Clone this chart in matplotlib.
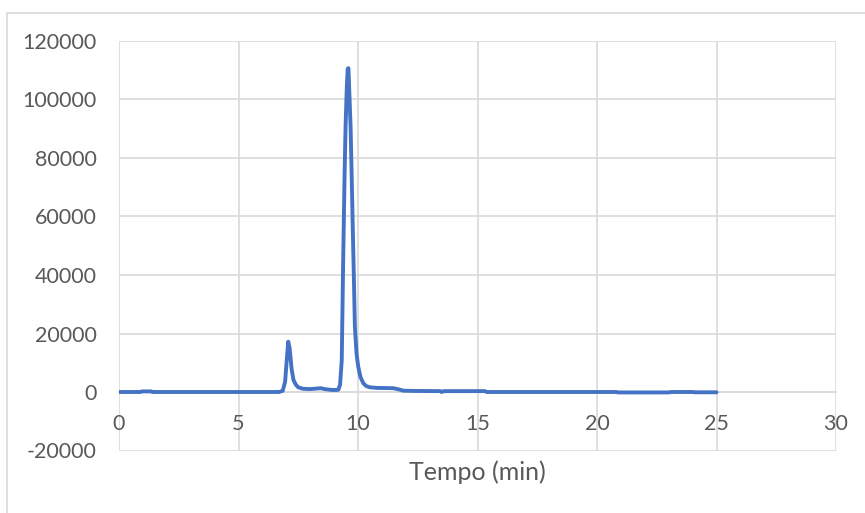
import matplotlib.pyplot as plt
import matplotlib.patches as patches

plt.rcParams['axes.unicode_minus'] = False

# chromatogram readings (time in min, signal)
tempo = [0.0, 0.9, 0.95, 1.35, 1.4, 3.0, 5.0, 6.7, 6.85, 6.95, 7.02, 7.08, 7.14, 7.22, 7.3,
         7.4, 7.5, 7.7, 8.0, 8.3, 8.45, 8.6, 8.9, 9.1, 9.18, 9.25, 9.32, 9.38, 9.44,
         9.48, 9.53, 9.57, 9.6, 9.63, 9.69, 9.74, 9.78, 9.83, 9.87, 9.94, 10.01,
         10.1, 10.22, 10.35, 10.5, 10.8, 11.2, 11.48, 11.7, 11.9, 12.5, 13.45, 13.5,
         13.6, 15.3, 15.4, 18.0, 20.8, 20.9, 23.0, 23.1, 24.0, 24.1, 25.0]
sinal = [0, 0, 200, 200, 0, 0, 0, 0, 400, 3500, 11000, 17200, 15000, 8000, 4100,
         2500, 1600, 1100, 1000, 1200, 1300, 1000, 700, 700, 800, 2500, 10900, 45100, 75000,
         90700, 104000, 110500, 110700, 104000, 90700, 72000, 56500, 38000, 22300, 13000, 8650,
         5200, 3000, 2000, 1600, 1400, 1350, 1300, 900, 450, 350, 300, 0,
         300, 300, 0, 0, 0, -150, -150, 0, 0, -100, -100]

x_ticks = [0, 5, 10, 15, 20, 25, 30]
y_ticks = [-20000, 0, 20000, 40000, 60000, 80000, 100000, 120000]

grid_col = '#d9d9d9'
text_col = '#595959'
font = 'Lato'

fig = plt.figure(figsize=(8.65, 5.13), dpi=100)
ax = fig.add_axes([119 / 865, 1 - 450.5 / 513, (836 - 119) / 865, (450.5 - 41) / 513])

# outer chart border, cut off on the right and bottom like the source
fig.patches.append(patches.Rectangle((7 / 865, -0.1), 1.1, 1 - 13 / 513 + 0.1,
                                     transform=fig.transFigure, fill=False,
                                     edgecolor=grid_col, linewidth=1.2))

ax.plot(tempo, sinal, color='#4472c4', linewidth=2.8, solid_joinstyle='round',
        solid_capstyle='round', zorder=3)

ax.set_xlim(0, 30)
ax.set_ylim(-20000, 120000)
ax.set_xticks(x_ticks)
ax.set_yticks(y_ticks)
ax.grid(True, color=grid_col, linewidth=1.2)
ax.set_axisbelow(True)

for side in ['top', 'right', 'left']:
    ax.spines[side].set_visible(False)
ax.spines['bottom'].set_position(('data', 0))
ax.spines['bottom'].set_color(grid_col)
ax.spines['bottom'].set_linewidth(1.2)

ax.tick_params(axis='both', length=0, labelsize=15.5, labelcolor=text_col)
ax.tick_params(axis='y', pad=16)
ax.tick_params(axis='x', pad=16)
for lab in ax.get_xticklabels() + ax.get_yticklabels():
    lab.set_fontfamily(font)

fig.text((119 + 836) / 2 / 865, 1 - 472 / 513, 'Tempo (min)', ha='center', va='center',
         fontsize=18, color=text_col, family=font)

fig.savefig('out.png', dpi=100)
